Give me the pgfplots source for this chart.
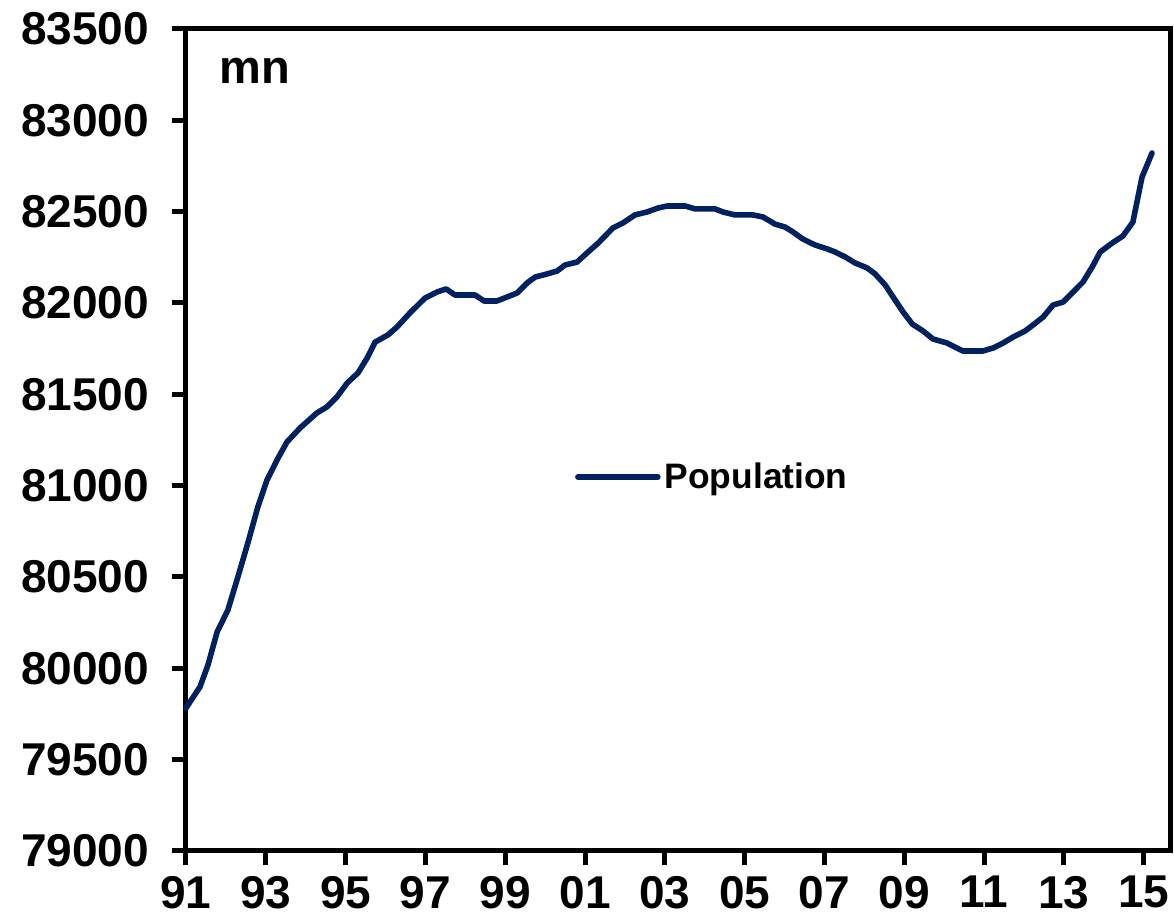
\documentclass[border=0pt]{standalone}
\usepackage{fontspec}
\setmainfont{Liberation Sans}
\usepackage{pgfplots}
\pgfplotsset{compat=1.18}
\definecolor{navy}{RGB}{0,33,96}
\begin{document}
\begin{tikzpicture}
\begin{axis}[
  scale only axis,
  width=492pt, height=411pt,
  xmin=1991, xmax=2015.66,
  ymin=79000, ymax=83500,
  xtick={1991,1993,1995,1997,1999,2001,2003,2005,2007,2009,2011,2013,2015},
  xticklabels={91,93,95,97,99,01,03,05,07,09,11,13,15},
  ytick={79000,79500,80000,80500,81000,81500,82000,82500,83000,83500},
  scaled y ticks=false,
  /pgf/number format/assume math mode=true,
  /pgf/number format/1000 sep={},
  /pgf/number format/fixed,
  tick label style={font=\bfseries\fontsize{23}{23}\selectfont},
  xtick pos=bottom, ytick pos=left,
  tick align=outside,
  major tick length=7pt,
  axis line style={line width=2.5pt},
  every tick/.style={black,line width=2.5pt},
  xticklabel style={yshift=-2pt},
  yticklabel style={xshift=-8pt},
  legend style={at={(rel axis cs:0.395,0.455)}, anchor=west, draw=none, fill=none, inner sep=0pt,
    font=\bfseries\fontsize{17.7}{17.7}\selectfont},
  legend image code/.code={\draw[#1,line cap=round] (0pt,0pt) -- (40pt,0pt);},
  clip=false,
]
\addplot[navy, line width=2.8pt, line join=round, line cap=round] coordinates {
(1991.00,79783) (1991.35,79898) (1991.55,80018) (1991.78,80199) (1992.05,80319)
(1992.30,80500) (1992.55,80686) (1992.80,80883) (1993.03,81031) (1993.28,81140)
(1993.53,81239) (1993.86,81316) (1994.28,81398) (1994.53,81431) (1994.78,81485)
(1995.04,81562) (1995.31,81617) (1995.54,81699) (1995.74,81786) (1996.06,81825)
(1996.29,81869) (1996.61,81945) (1996.99,82027) (1997.29,82060) (1997.52,82077)
(1997.74,82044) (1998.24,82044) (1998.47,82011) (1998.79,82011) (1999.05,82033)
(1999.30,82055) (1999.55,82110) (1999.75,82142) (2000.05,82159) (2000.30,82175)
(2000.50,82208) (2000.80,82224) (2001.05,82274) (2001.33,82328) (2001.70,82411)
(2001.95,82438) (2002.25,82482) (2002.55,82498) (2002.83,82520) (2003.06,82531)
(2003.51,82531) (2003.76,82515) (2004.26,82515) (2004.46,82498) (2004.76,82482)
(2005.21,82482) (2005.46,82471) (2005.76,82432) (2006.01,82416) (2006.21,82389)
(2006.46,82350) (2006.76,82318) (2007.07,82296) (2007.27,82279) (2007.52,82252)
(2007.77,82219) (2008.07,82192) (2008.27,82159) (2008.52,82099) (2008.72,82033)
(2008.97,81951) (2009.20,81885) (2009.47,81847) (2009.72,81803) (2010.07,81781)
(2010.27,81759) (2010.47,81737) (2010.97,81737) (2011.23,81754) (2011.48,81781)
(2011.73,81814) (2012.03,81847) (2012.23,81880) (2012.48,81923) (2012.73,81989)
(2012.98,82005) (2013.23,82060) (2013.48,82115) (2013.71,82197) (2013.91,82279)
(2014.21,82328) (2014.48,82367) (2014.73,82443) (2014.96,82690) (2015.21,82821)
};
\addlegendentry{Population}
\node[anchor=base west, font=\bfseries\fontsize{23.5}{23.5}\selectfont, inner sep=0pt] at (rel axis cs:0.034,0.934) {mn};
\end{axis}
\pgfresetboundingbox
\path (current axis.south west) ++(-93pt,-35pt) coordinate (bbA);
\path (current axis.north east) ++(2pt,14.5pt) coordinate (bbB);
\path[use as bounding box] (bbA) rectangle (bbB);
\end{tikzpicture}
\end{document}
